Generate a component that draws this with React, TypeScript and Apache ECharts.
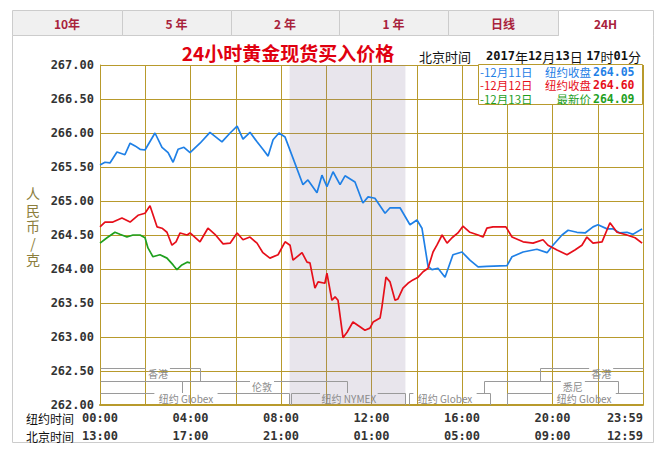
import React, { useEffect, useRef } from "react";
import * as echarts from "echarts";

// ---- data ----
const nyTimeLabels = ["00:00", "04:00", "08:00", "12:00", "16:00", "20:00", "23:59"];
const bjTimeLabels = ["13:00", "17:00", "21:00", "01:00", "05:00", "09:00", "12:59"];

const blueHours = [0, 0.22, 0.44, 0.75, 1.1, 1.33, 1.55, 1.77, 1.99, 2.43, 2.74, 3.01, 3.23, 3.45, 3.71, 3.98, 4.42, 4.86, 5.39, 5.75, 6.06, 6.32, 6.63, 6.94, 7.2, 7.43, 7.65, 7.91, 8.18, 8.53, 8.97, 9.19, 9.59, 9.81, 10.03, 10.3, 10.61, 10.83, 11.27, 11.62, 11.85, 12.15, 12.6, 12.82, 13.26, 13.7, 14.01, 14.23, 14.5, 14.67, 14.94, 15.25, 15.6, 16.0, 16.35, 16.71, 17.1, 17.99, 18.21, 18.7, 19.31, 19.76, 20.02, 20.42, 20.69, 21.08, 21.44, 21.79, 22.01, 22.41, 22.67, 22.98, 23.29, 23.56, 23.96];
const blueValues = [265.53, 265.57, 265.56, 265.72, 265.68, 265.85, 265.81, 265.76, 265.75, 266.0, 265.79, 265.71, 265.57, 265.76, 265.79, 265.71, 265.85, 266.01, 265.87, 266.0, 266.1, 265.91, 266.01, 265.87, 265.76, 265.66, 265.9, 266.0, 265.94, 265.63, 265.24, 265.31, 265.12, 265.38, 265.21, 265.43, 265.24, 265.37, 265.28, 264.97, 265.06, 265.04, 264.82, 264.9, 264.9, 264.65, 264.72, 264.6, 264.04, 263.99, 264.01, 263.88, 264.21, 264.25, 264.13, 264.03, 264.04, 264.05, 264.18, 264.25, 264.29, 264.24, 264.35, 264.5, 264.57, 264.54, 264.53, 264.62, 264.65, 264.59, 264.59, 264.53, 264.54, 264.51, 264.59];

const redHours = [0, 0.22, 0.57, 0.97, 1.33, 1.68, 1.99, 2.21, 2.52, 2.74, 2.96, 3.18, 3.36, 3.54, 3.85, 3.98, 4.42, 4.77, 5.08, 5.44, 5.75, 6.06, 6.32, 6.63, 6.94, 7.2, 7.51, 7.87, 8.18, 8.4, 8.53, 8.93, 9.15, 9.28, 9.5, 9.64, 9.94, 10.03, 10.25, 10.39, 10.52, 10.74, 10.92, 11.18, 11.49, 11.71, 11.93, 12.07, 12.38, 12.46, 12.64, 12.82, 13.04, 13.17, 13.39, 13.61, 13.83, 14.06, 14.28, 14.5, 14.72, 14.89, 15.12, 15.34, 15.56, 15.82, 16.04, 16.35, 16.71, 16.93, 17.1, 17.37, 17.94, 18.21, 18.7, 19.14, 19.58, 19.8, 20.2, 20.64, 20.99, 21.3, 21.52, 21.79, 22.19, 22.54, 22.85, 23.29, 23.65, 23.96];
const redValues = [264.62, 264.69, 264.69, 264.75, 264.69, 264.79, 264.82, 264.93, 264.62, 264.6, 264.54, 264.35, 264.4, 264.53, 264.5, 264.53, 264.4, 264.6, 264.51, 264.37, 264.38, 264.53, 264.43, 264.47, 264.38, 264.24, 264.16, 264.21, 264.4, 264.35, 264.13, 264.24, 264.1, 264.09, 263.72, 263.81, 263.79, 263.94, 263.54, 263.59, 263.54, 262.99, 263.07, 263.22, 263.15, 263.1, 263.13, 263.22, 263.28, 263.44, 263.88, 263.81, 263.54, 263.56, 263.72, 263.79, 263.84, 263.88, 263.96, 264.01, 264.25, 264.35, 264.5, 264.38, 264.46, 264.53, 264.63, 264.54, 264.5, 264.47, 264.6, 264.62, 264.62, 264.47, 264.4, 264.38, 264.43, 264.35, 264.28, 264.21, 264.28, 264.35, 264.47, 264.38, 264.4, 264.68, 264.54, 264.5, 264.46, 264.38];

const greenHours = [0, 0.31, 0.66, 0.88, 1.19, 1.46, 1.77, 1.99, 2.12, 2.34, 2.65, 2.96, 3.23, 3.4, 3.62, 3.85, 3.98];
const greenValues = [264.38, 264.46, 264.54, 264.51, 264.47, 264.5, 264.5, 264.46, 264.31, 264.18, 264.21, 264.16, 264.06, 263.99, 264.06, 264.1, 264.09];

const nymexStart = 8.38;
const nymexEnd = 13.5;

const marketNames = ["香港", "香港", "伦敦", "", "悉尼", "纽约 Globex", "纽约 NYMEX", "纽约 Globex", "纽约 Globex"];
const marketStart = [0, 19.45, 3.62, 0, 16.97, 0, 8.44, 13.65, 18.0];
const marketEnd = [4.42, 24, 10.92, 3.62, 22.9, 8.35, 13.5, 17.25, 24];
const marketTop = [262.545, 262.545, 262.36, 262.36, 262.36, 262.18, 262.18, 262.18, 262.18];
const marketBottom = [262.36, 262.36, 262.18, 262.18, 262.18, 262.0, 262.0, 262.0, 262.0];
const marketLabelAt = [2.56, 22.15, 7.16, 0, 20.9, 3.8, 11.0, 15.25, 21.4];

const tabNames = ["10年", "5 年", "2 年", "1 年", "日线", "24H"];
const yAxisNameChars = ["人", "民", "币", "/", "克"];
const legendDates = ["-12月11日", "-12月12日", "-12月13日"];
const legendKinds = ["纽约收盘", "纽约收盘", "最新价"];
const legendValues = ["264.05", "264.60", "264.09"];

const OLIVE = "#b89a2c";
const BLUE = "#1f80e6";
const RED = "#e60f1a";
const GREEN = "#1fa01f";
const seriesColors = [BLUE, RED, GREEN];
const CJK = "'Noto Sans CJK SC', sans-serif";

function estWidth(s: string, size: number) {
  let w = 0;
  for (const ch of s) w += /[\u3000-\u9fff]/.test(ch) ? size : size * 0.56;
  return w;
}

export default function App() {
  const ref = useRef<HTMLDivElement>(null);
  useEffect(() => {
    document.body.style.margin = "0";
    const chart = echarts.init(ref.current!, null, { renderer: "svg" });

    const tabEdges = [12, 122, 231, 339, 448, 558, 653];
    const graphics: any[] = [];
    graphics.push({
      type: "rect", z: -50, silent: true,
      shape: { x: 12.5, y: 35.5, width: 641, height: 407 },
      style: { fill: "#fff", stroke: "#cccccc", lineWidth: 1 },
    });
    tabNames.forEach((t, i) => {
      const x0 = tabEdges[i], x1 = tabEdges[i + 1];
      const active = i === tabNames.length - 1;
      graphics.push({
        type: "rect", z: 10, silent: true,
        shape: { x: x0 + 0.5, y: 10.5, width: x1 - x0, height: 25 },
        style: { fill: active ? "#ffffff" : "#f0f0f0", stroke: "#cccccc", lineWidth: 1 },
      });
      graphics.push({
        type: "text", z: 11, silent: true,
        x: (x0 + x1) / 2, y: 23,
        style: { text: t, fill: "#a8223c", font: `bold 12px ${CJK}`, align: "center", verticalAlign: "middle" },
      });
    });
    graphics.push({
      type: "line", z: 12, silent: true,
      shape: { x1: tabEdges[5] + 1, y1: 35.5, x2: tabEdges[6], y2: 35.5 },
      style: { stroke: "#ffffff", lineWidth: 1 },
    });
    // title
    graphics.push({
      type: "text", z: 11, silent: true, x: 288, y: 52,
      style: { text: "24小时黄金现货买入价格", fill: "#e0000f", font: `bold 19px ${CJK}`, align: "center", verticalAlign: "middle" },
    });
    graphics.push({
      type: "text", z: 11, silent: true, x: 419, y: 56,
      style: { text: "北京时间", fill: "#111", font: `13px ${CJK}`, align: "left", verticalAlign: "middle" },
    });
    graphics.push({
      type: "text", z: 11, silent: true, x: 486, y: 56,
      style: {
        text: "{d|2017}{c|年}{d|12}{c|月}{d|13}{c|日} {d|17}{c|时}{d|01}{c|分}",
        align: "left", verticalAlign: "middle", fill: "#111",
        rich: {
          d: { fontFamily: "DejaVu Sans Mono", fontWeight: "bold", fontSize: 12, fill: "#111" },
          c: { fontFamily: "Noto Sans CJK SC", fontSize: 13, fill: "#111" },
        },
      },
    });
    // legend box
    graphics.push({
      type: "rect", z: 20, silent: true,
      shape: { x: 478.5, y: 64.5, width: 164, height: 40 },
      style: { fill: "#fff", stroke: OLIVE, lineWidth: 1 },
    });
    legendDates.forEach((d, i) => {
      const y = 71.5 + i * 13.5;
      const c = seriesColors[i];
      graphics.push({
        type: "text", z: 21, silent: true, x: 480, y,
        style: { text: d, fill: c, font: `11.5px ${CJK}`, lineHeight: 11, align: "left", verticalAlign: "middle" },
      });
      graphics.push({
        type: "text", z: 21, silent: true, x: 591, y,
        style: { text: legendKinds[i], fill: c, font: `11.5px ${CJK}`, lineHeight: 11, align: "right", verticalAlign: "middle" },
      });
      graphics.push({
        type: "text", z: 21, silent: true, x: 593, y,
        style: { text: legendValues[i], fill: c, font: `bold 11.5px 'DejaVu Sans Mono'`, lineHeight: 11, align: "left", verticalAlign: "middle" },
      });
    });
    // y-axis name, one character per line
    yAxisNameChars.forEach((ch, i) => {
      graphics.push({
        type: "text", z: 11, silent: true, x: 33, y: 193 + i * 16.5,
        style: { text: ch, fill: "#8c7e3c", font: `14px ${CJK}`, align: "center", verticalAlign: "middle" },
      });
    });
    graphics.push({
      type: "text", z: 11, silent: true, x: 26, y: 418,
      style: { text: "纽约时间", fill: "#111", font: `12px ${CJK}`, align: "left", verticalAlign: "middle" },
    });
    graphics.push({
      type: "text", z: 11, silent: true, x: 26, y: 436,
      style: { text: "北京时间", fill: "#111", font: `12px ${CJK}`, align: "left", verticalAlign: "middle" },
    });

    const lineSeries = [
      { name: "12月11日", hours: blueHours, values: blueValues, color: BLUE },
      { name: "12月12日", hours: redHours, values: redValues, color: RED },
      { name: "12月13日", hours: greenHours, values: greenValues, color: GREEN },
    ].map((s, idx) => ({
      type: "line",
      name: s.name,
      z: 5,
      showSymbol: false,
      symbol: "none",
      silent: true,
      lineStyle: { color: s.color, width: 1.7 },
      data: s.hours.map((h, i) => [h, s.values[i]]),
      markArea: idx === 0 ? {
        silent: true,
        itemStyle: { color: "rgba(140,125,160,0.2)" },
        data: [[{ xAxis: nymexStart }, { xAxis: nymexEnd }]],
      } : undefined,
    }));

    const marketData = marketStart.map((s, i) => [s, marketEnd[i], marketTop[i], marketBottom[i], marketLabelAt[i]]);

    const option: any = {
      animation: false,
      grid: { left: 100, right: 27, top: 65, bottom: 45 },
      xAxis: {
        type: "value", min: 0, max: 24, interval: 2,
        axisLine: { show: true, onZero: false, lineStyle: { color: OLIVE, width: 2 } },
        axisTick: { show: false },
        splitLine: { show: true, lineStyle: { color: OLIVE, width: 1 } },
        axisLabel: {
          margin: 4, showMinLabel: true, showMaxLabel: true, alignMaxLabel: "right",
          fontFamily: "DejaVu Sans Mono", fontWeight: "bold", fontSize: 12, color: "#333", lineHeight: 18,
          formatter: (v: number) => {
            const r = Math.round(v);
            if (r % 4 !== 0) return "";
            const k = r / 4;
            return `${nyTimeLabels[k]}\n${bjTimeLabels[k]}`;
          },
        },
      },
      yAxis: {
        type: "value", min: 262, max: 267, interval: 0.5,
        axisLine: { show: true, lineStyle: { color: OLIVE, width: 1 } },
        axisTick: { show: false },
        splitLine: { show: true, lineStyle: { color: OLIVE, width: 1 } },
        axisLabel: {
          margin: 6, fontFamily: "DejaVu Sans Mono", fontWeight: "bold", fontSize: 12, color: "#333",
          formatter: (v: number) => v.toFixed(2),
        },
      },
      graphic: graphics,
      series: [
        {
          type: "custom",
          z: 3,
          silent: true,
          coordinateSystem: "cartesian2d",
          data: marketData,
          renderItem: (params: any, api: any) => {
            const s = api.value(0), e = api.value(1), top = api.value(2), bot = api.value(3), la = api.value(4);
            const p1 = api.coord([s, top]);
            const p2 = api.coord([e, bot]);
            const x1 = Math.round(p1[0]) + 0.5, x2 = Math.round(p2[0]) + 0.5;
            const yT = Math.round(p1[1]) + 0.5, yB = Math.round(p2[1]);
            const label = marketNames[params.dataIndex];
            const stroke = { stroke: "#9a9a9a", lineWidth: 1, fill: "none" };
            const children: any[] = [];
            if (label) {
              const lx = api.coord([la, top])[0];
              const w = estWidth(label, 10) + 4;
              children.push({ type: "line", shape: { x1, y1: yT, x2: lx - w / 2, y2: yT }, style: stroke });
              children.push({ type: "line", shape: { x1: lx + w / 2, y1: yT, x2, y2: yT }, style: stroke });
              children.push({
                type: "text", x: lx, y: yT - 0.5,
                style: { text: label, fill: "#8a8a8a", font: `10px ${CJK}`, lineHeight: 10, align: "center", verticalAlign: "top" },
              });
            } else {
              children.push({ type: "line", shape: { x1, y1: yT, x2, y2: yT }, style: stroke });
            }
            if (s > 0) children.push({ type: "line", shape: { x1, y1: yT, x2: x1, y2: yB }, style: stroke });
            if (e < 24) children.push({ type: "line", shape: { x1: x2, y1: yT, x2, y2: yB }, style: stroke });
            return { type: "group", children };
          },
        },
        ...lineSeries,
      ],
    };
    chart.setOption(option);
    return () => chart.dispose();
  }, []);
  return <div ref={ref} style={{ width: 670, height: 450 }} />;
}
